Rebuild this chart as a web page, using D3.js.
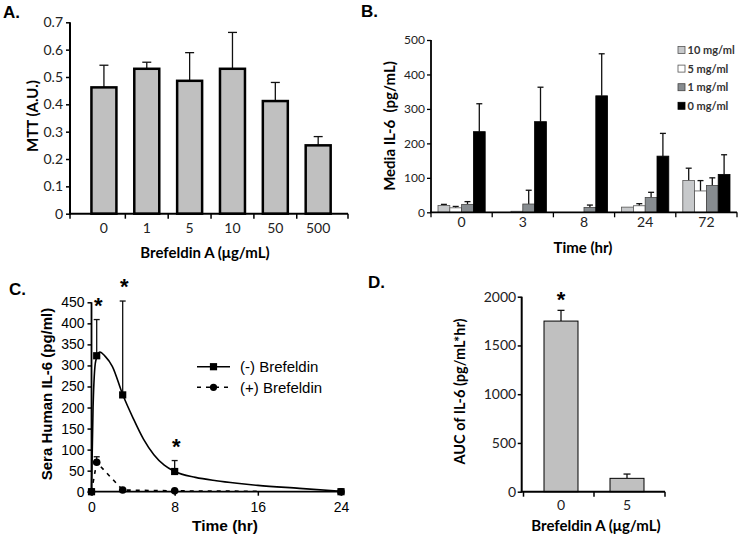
<!DOCTYPE html>
<html><head><meta charset="utf-8">
<script src="https://cdn.jsdelivr.net/npm/d3@7"></script>
<style>body{margin:0;background:#fff} svg{display:block}</style>
</head><body>
<svg id="fig" width="743" height="542"></svg>
<script>
// ---------- Panel A data ----------
const aCats = ["0", "1", "5", "10", "50", "500"];
const aMeans = [0.462, 0.53, 0.486, 0.53, 0.412, 0.25];
const aErrs = [0.081, 0.024, 0.103, 0.133, 0.068, 0.032];
const aTicks = [0, 0.1, 0.2, 0.3, 0.4, 0.5, 0.6, 0.7];
const aTickLabels = ["0", "0.1", "0.2", "0.3", "0.4", "0.5", "0.6", "0.7"];

// ---------- Panel B data ----------
const bTimes = ["0", "3", "8", "24", "72"];
const bSeries = ["10 mg/ml", "5 mg/ml", "1 mg/ml", "0 mg/ml"];
const b10 = [20, 0, 0, 15, 92];
const b10Err = [3, 0, 0, 0, 36];
const b5 = [13, 3, 0, 19, 62];
const b5Err = [4, 0, 0, 6, 30];
const b1 = [23, 24, 14, 43, 78];
const b1Err = [8, 40, 7, 15, 22];
const b0 = [234, 263, 338, 163, 110];
const b0Err = [81, 100, 122, 66, 57];
const bTicks = [0, 100, 200, 300, 400, 500];

// ---------- Panel C data ----------
const cTimes = [0, 0.5, 3, 8, 24];
const cMinus = [0, 323, 230, 48, 0];
const cMinusErr = [0, 86, 223, 26, 0];
const cPlus = [0, 70, 4, 2, 0];
const cPlusErr = [0, 13, 0, 0, 0];
const cStarTimes = [0.5, 3, 8];
// fitted curves as drawn in the figure
const cMinusFitT = [0, 0.15, 0.4, 0.8, 1.3, 2, 3, 4, 5, 6, 7, 8, 10, 12, 14, 16, 20, 24];
const cMinusFitV = [0, 200, 310, 332, 322, 298, 231, 175, 125, 88, 63, 48, 34, 26, 20, 15, 8, 1];
const cPlusFitT = [0, 0.5, 3, 8, 16];
const cPlusFitV = [0, 70, 4, 2, 1];
const cXTicks = [0, 8, 16, 24];
const cYTicks = [0, 50, 100, 150, 200, 250, 300, 350, 400, 450];

// ---------- Panel D data ----------
const dCats = ["0", "5"];
const dMeans = [1750, 137];
const dErrs = [110, 44];
const dStars = [true, false];
const dTicks = [0, 500, 1000, 1500, 2000];

const svg = d3.select("#fig");
const CAL = "Lato, 'Open Sans', sans-serif";
const ARIAL = "'Liberation Sans', Arial, sans-serif";

function panelLabel(t, x, y) {
  svg.append("text").attr("x", x).attr("y", y).text(t)
    .attr("font-family", ARIAL).attr("font-weight", "bold").attr("font-size", 17).attr("fill", "#000");
}
function errBar(g, x, y1, y2, cap, sw) {
  g.append("line").attr("x1", x).attr("x2", x).attr("y1", y1).attr("y2", y2).attr("stroke", "#111").attr("stroke-width", sw);
  g.append("line").attr("x1", x - cap / 2).attr("x2", x + cap / 2).attr("y1", y2).attr("y2", y2).attr("stroke", "#111").attr("stroke-width", sw);
}

// ================= Panel A =================
{
  const g = svg.append("g");
  const y = d3.scaleLinear().domain([0, 0.7]).range([213.7, 22.3]);
  const x = d3.scaleBand().domain(aCats).range([82.5, 339.6]).paddingInner(0.417).paddingOuter(0.2085);
  aCats.forEach((c, i) => {
    errBar(g, x(c) + x.bandwidth() / 2, y(aMeans[i]), y(aMeans[i] + aErrs[i]), 9, 1.3);
  });
  g.selectAll("rect.bar").data(aCats).join("rect").attr("class", "bar")
    .attr("x", d => x(d)).attr("y", (d, i) => y(aMeans[i]))
    .attr("width", x.bandwidth()).attr("height", (d, i) => y(0) - y(aMeans[i]))
    .attr("fill", "#c0c0c0").attr("stroke", "#000").attr("stroke-width", 2.5);
  const ya = g.append("g").attr("transform", "translate(70,0)")
    .call(d3.axisLeft(y).tickValues(aTicks).tickSize(4).tickPadding(3).tickFormat((d, i) => aTickLabels[i]));
  ya.select(".domain").remove();
  ya.selectAll("line").attr("stroke-width", 1.5);
  ya.selectAll("text").attr("font-family", CAL).attr("font-size", 14).attr("fill", "#222");
  g.append("line").attr("x1", 70).attr("x2", 70).attr("y1", y(0.7)).attr("y2", y(0) + 1).attr("stroke", "#000").attr("stroke-width", 2);
  g.append("line").attr("x1", 69).attr("x2", 348).attr("y1", y(0)).attr("y2", y(0)).attr("stroke", "#000").attr("stroke-width", 2);
  const bounds = [70].concat(aCats.slice(1).map(c => x(c) - x.step() * x.paddingInner() / 2)).concat([348]);
  g.selectAll("line.xt").data(bounds).join("line").attr("class", "xt")
    .attr("x1", d => d).attr("x2", d => d).attr("y1", y(0)).attr("y2", y(0) + 5).attr("stroke", "#000").attr("stroke-width", 1.5);
  const xa = g.append("g").attr("transform", `translate(0,${y(0)})`)
    .call(d3.axisBottom(x).tickSize(0).tickPadding(9));
  xa.select(".domain").remove();
  xa.selectAll("text").attr("font-family", CAL).attr("font-size", 14).attr("fill", "#222");
  g.append("text").attr("transform", "translate(38,116) rotate(-90)").attr("text-anchor", "middle")
    .attr("font-family", CAL).attr("font-weight", "bold").attr("font-size", 15).text("MTT (A.U.)");
  g.append("text").attr("x", 205).attr("y", 258).attr("text-anchor", "middle")
    .attr("font-family", CAL).attr("font-weight", "bold").attr("font-size", 15).text("Brefeldin A (μg/mL)");
  panelLabel("A.", 3, 18);
}

// ================= Panel B =================
{
  const g = svg.append("g");
  const y = d3.scaleLinear().domain([0, 500]).range([212.3, 40]);
  const x0 = d3.scaleBand().domain(bTimes).range([431, 737]);
  const x1 = d3.scaleBand().domain(bSeries).range([7, x0.step() - 7]);
  const vals = [b10, b5, b1, b0];
  const errs = [b10Err, b5Err, b1Err, b0Err];
  const fills = ["#c7c9cb", "#ffffff", "#878c90", "#000000"];
  const strokes = ["#555", "#555", "#444", "#000"];
  bSeries.forEach((s, si) => {
    bTimes.forEach((t, ti) => {
      const v = vals[si][ti], e = errs[si][ti];
      const cx = x0(t) + x1(s) + x1.bandwidth() / 2;
      if (e > 0) errBar(g, cx, y(v), y(v + e), 6, 1.3);
    });
    g.selectAll(null).data(bTimes).join("rect")
      .attr("x", d => x0(d) + x1(s)).attr("y", (d, ti) => y(vals[si][ti]))
      .attr("width", x1.bandwidth()).attr("height", (d, ti) => y(0) - y(vals[si][ti]))
      .attr("fill", fills[si]).attr("stroke", strokes[si]).attr("stroke-width", 0.8);
  });
  const ya = g.append("g").attr("transform", "translate(431,0)")
    .call(d3.axisLeft(y).tickValues(bTicks).tickSize(4).tickPadding(2));
  ya.select(".domain").remove();
  ya.selectAll("line").attr("stroke-width", 1.3);
  ya.selectAll("text").attr("font-family", CAL).attr("font-size", 12).attr("fill", "#222");
  g.append("line").attr("x1", 431).attr("x2", 431).attr("y1", y(500)).attr("y2", y(0)).attr("stroke", "#000").attr("stroke-width", 1.8);
  g.append("line").attr("x1", 430).attr("x2", 737).attr("y1", y(0)).attr("y2", y(0)).attr("stroke", "#000").attr("stroke-width", 1.8);
  const bounds = bTimes.map(t => x0(t)).concat([737]);
  g.selectAll("line.xt").data(bounds).join("line").attr("class", "xt")
    .attr("x1", d => d).attr("x2", d => d).attr("y1", y(0)).attr("y2", y(0) + 5).attr("stroke", "#000").attr("stroke-width", 1.3);
  const xa = g.append("g").attr("transform", `translate(0,${y(0)})`)
    .call(d3.axisBottom(x0).tickSize(0).tickPadding(5));
  xa.select(".domain").remove();
  xa.selectAll("text").attr("font-family", CAL).attr("font-size", 14).attr("fill", "#222");
  // legend
  const lg = g.append("g");
  bSeries.forEach((s, i) => {
    const ly = 50 + i * 18.6;
    lg.append("rect").attr("x", 678).attr("y", ly - 3.5).attr("width", 7).attr("height", 7)
      .attr("fill", fills[i]).attr("stroke", strokes[i]).attr("stroke-width", 0.8);
    lg.append("text").attr("x", 687.5).attr("y", ly + 4).attr("font-family", CAL).attr("font-weight", "bold")
      .attr("font-size", 11).attr("fill", "#333").text(s);
  });
  g.append("text").attr("transform", "translate(395,126) rotate(-90)").attr("text-anchor", "middle")
    .attr("font-family", CAL).attr("font-weight", "bold").attr("font-size", 15).attr("xml:space", "preserve").text("Media IL-6  (pg/mL)");
  g.append("text").attr("x", 583).attr("y", 253).attr("text-anchor", "middle")
    .attr("font-family", CAL).attr("font-weight", "bold").attr("font-size", 15).text("Time (hr)");
  panelLabel("B.", 361, 17);
}

// ================= Panel C =================
{
  const g = svg.append("g");
  const x = d3.scaleLinear().domain([0, 24]).range([91.5, 341]);
  const y = d3.scaleLinear().domain([0, 450]).range([491.7, 302.3]);
  const line = d3.line().x(d => x(d[0])).y(d => y(d[1]));
  g.append("path").datum(d3.zip(cPlusFitT, cPlusFitV)).attr("d", line)
    .attr("fill", "none").attr("stroke", "#000").attr("stroke-width", 1.6).attr("stroke-dasharray", "4,5");
  g.append("path").datum(d3.zip(cMinusFitT, cMinusFitV)).attr("d", line.curve(d3.curveMonotoneX))
    .attr("fill", "none").attr("stroke", "#000").attr("stroke-width", 1.6);
  // error bars
  cTimes.forEach((t, i) => {
    if (cMinusErr[i] > 0) errBar(g, x(t), y(cMinus[i]), y(cMinus[i] + cMinusErr[i]), 6, 1.3);
    if (cPlusErr[i] > 0) errBar(g, x(t), y(cPlus[i]), y(cPlus[i] + cPlusErr[i]), 6, 1.3);
  });
  // axes
  const ya = g.append("g").attr("transform", `translate(${x(0)},0)`)
    .call(d3.axisLeft(y).tickValues(cYTicks).tickSize(4).tickPadding(3));
  ya.select(".domain").remove();
  ya.selectAll("line").attr("stroke-width", 1.5);
  ya.selectAll("text").attr("font-family", ARIAL).attr("font-size", 14).attr("fill", "#000");
  const xa = g.append("g").attr("transform", `translate(0,${y(0)})`)
    .call(d3.axisBottom(x).tickValues(cXTicks).tickSize(4).tickPadding(6));
  xa.select(".domain").remove();
  xa.selectAll("line").attr("stroke-width", 1.5);
  xa.selectAll("text").attr("font-family", ARIAL).attr("font-size", 14).attr("fill", "#000");
  g.append("line").attr("x1", x(0)).attr("x2", x(0)).attr("y1", y(450)).attr("y2", y(0)).attr("stroke", "#000").attr("stroke-width", 1.8);
  g.append("line").attr("x1", x(0)).attr("x2", 342).attr("y1", y(0)).attr("y2", y(0)).attr("stroke", "#000").attr("stroke-width", 1.8);
  // markers
  g.selectAll("circle.pl").data(cTimes).join("circle").attr("class", "pl")
    .attr("cx", d => x(d)).attr("cy", (d, i) => y(cPlus[i])).attr("r", 3.8).attr("fill", "#000");
  g.selectAll("rect.mi").data(cTimes).join("rect").attr("class", "mi")
    .attr("x", d => x(d) - 3.6).attr("y", (d, i) => y(cMinus[i]) - 3.6).attr("width", 7.2).attr("height", 7.2).attr("fill", "#000");
  // stars
  cStarTimes.forEach(t => {
    const i = cTimes.indexOf(t);
    g.append("text").attr("x", x(t) + 1.5).attr("y", y(cMinus[i] + cMinusErr[i]) - 7).attr("text-anchor", "middle")
      .attr("font-family", ARIAL).attr("font-weight", "bold").attr("font-size", 22).text("*");
  });
  // legend
  g.append("line").attr("x1", 197).attr("x2", 230).attr("y1", 366.7).attr("y2", 366.7).attr("stroke", "#000").attr("stroke-width", 1.6);
  g.append("rect").attr("x", 213.5 - 3.6).attr("y", 366.7 - 3.6).attr("width", 7.2).attr("height", 7.2).attr("fill", "#000");
  g.append("text").attr("x", 240).attr("y", 372).attr("font-family", ARIAL).attr("font-size", 15).text("(-) Brefeldin");
  g.append("line").attr("x1", 197).attr("x2", 230).attr("y1", 387.3).attr("y2", 387.3).attr("stroke", "#000").attr("stroke-width", 1.6).attr("stroke-dasharray", "4,5");
  g.append("circle").attr("cx", 213.5).attr("cy", 387.3).attr("r", 3.6).attr("fill", "#000");
  g.append("text").attr("x", 240).attr("y", 392.6).attr("font-family", ARIAL).attr("font-size", 15).text("(+) Brefeldin");
  g.append("text").attr("transform", "translate(52,394) rotate(-90)").attr("text-anchor", "middle")
    .attr("font-family", ARIAL).attr("font-weight", "bold").attr("font-size", 15).text("Sera Human IL-6 (pg/ml)");
  g.append("text").attr("x", 225).attr("y", 531).attr("text-anchor", "middle")
    .attr("font-family", ARIAL).attr("font-weight", "bold").attr("font-size", 15.5).text("Time (hr)");
  panelLabel("C.", 9, 295);
}

// ================= Panel D =================
{
  const g = svg.append("g");
  const y = d3.scaleLinear().domain([0, 2000]).range([491.7, 296.7]);
  const x = d3.scaleBand().domain(dCats).range([528, 660]).paddingInner(0.485).paddingOuter(0.2425);
  dCats.forEach((c, i) => {
    errBar(g, x(c) + x.bandwidth() / 2, y(dMeans[i]), y(dMeans[i] + dErrs[i]), 7, 1.3);
  });
  g.selectAll("rect.bar").data(dCats).join("rect").attr("class", "bar")
    .attr("x", d => x(d)).attr("y", (d, i) => y(dMeans[i]))
    .attr("width", x.bandwidth()).attr("height", (d, i) => y(0) - y(dMeans[i]))
    .attr("fill", "#c0c0c0").attr("stroke", "#000").attr("stroke-width", 1);
  dCats.forEach((c, i) => {
    if (dStars[i]) g.append("text").attr("x", x(c) + x.bandwidth() / 2).attr("y", y(dMeans[i] + dErrs[i]) - 3)
      .attr("text-anchor", "middle").attr("font-family", ARIAL).attr("font-weight", "bold").attr("font-size", 22).text("*");
  });
  const ya = g.append("g").attr("transform", "translate(521.7,0)")
    .call(d3.axisLeft(y).tickValues(dTicks).tickSize(4).tickPadding(1.5).tickFormat(d3.format("d")));
  ya.select(".domain").remove();
  ya.selectAll("line").attr("stroke-width", 1.5);
  ya.selectAll("text").attr("font-family", CAL).attr("font-size", 14).attr("fill", "#222");
  g.append("line").attr("x1", 521.7).attr("x2", 521.7).attr("y1", y(2000)).attr("y2", y(0)).attr("stroke", "#000").attr("stroke-width", 2);
  g.append("line").attr("x1", 520.7).attr("x2", 665).attr("y1", y(0)).attr("y2", y(0)).attr("stroke", "#000").attr("stroke-width", 2);
  const bounds = [523.5, x("5") - x.step() * x.paddingInner() / 2, 665];
  g.selectAll("line.xt").data(bounds).join("line").attr("class", "xt")
    .attr("x1", d => d).attr("x2", d => d).attr("y1", y(0)).attr("y2", y(0) + 5).attr("stroke", "#000").attr("stroke-width", 1.5);
  const xa = g.append("g").attr("transform", `translate(0,${y(0)})`)
    .call(d3.axisBottom(x).tickSize(0).tickPadding(8));
  xa.select(".domain").remove();
  xa.selectAll("text").attr("font-family", CAL).attr("font-size", 14).attr("fill", "#222");
  g.append("text").attr("transform", "translate(465,391.5) rotate(-90)").attr("text-anchor", "middle")
    .attr("font-family", CAL).attr("font-weight", "bold").attr("font-size", 14.5).text("AUC of IL-6 (pg/mL*hr)");
  g.append("text").attr("x", 596).attr("y", 531).attr("text-anchor", "middle")
    .attr("font-family", CAL).attr("font-weight", "bold").attr("font-size", 15).text("Brefeldin A (μg/mL)");
  panelLabel("D.", 368, 288);
}
</script></body></html>
